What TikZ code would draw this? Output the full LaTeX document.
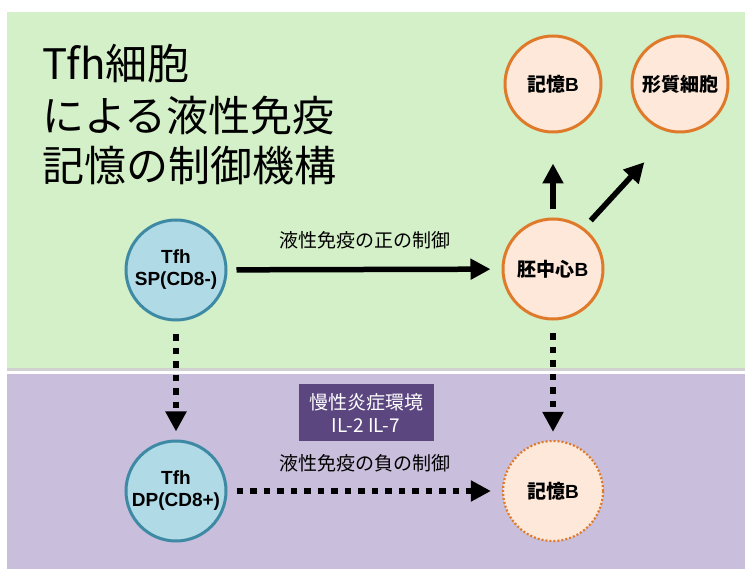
\documentclass[tikz,border=0pt]{standalone}
\usepackage{fontspec}
\setmainfont{Noto Sans CJK JP}
\newfontfamily\lat{Liberation Sans}
\usetikzlibrary{arrows.meta}
\definecolor{bggreen}{RGB}{212,240,200}
\definecolor{bgpurple}{RGB}{201,191,220}
\definecolor{orfill}{RGB}{253,232,218}
\definecolor{ordraw}{RGB}{222,122,42}
\definecolor{blfill}{RGB}{175,218,230}
\definecolor{bldraw}{RGB}{62,138,164}
\definecolor{envfill}{RGB}{91,70,128}
\tikzset{
  cell/.style={circle, minimum size=100pt, inner sep=0pt, line width=3pt, align=center,
    font=\fontsize{19}{22}\selectfont\bfseries},
  orcell/.style={cell, fill=orfill, draw=ordraw},
  blcell/.style={cell, fill=blfill, draw=bldraw},
  dotcell/.style={cell, fill=orfill, draw=ordraw, line width=2.2pt, dash pattern=on 2pt off 2pt},
  arr/.style={line width=5.5pt, -{Triangle[length=20pt,width=20pt]}},
  darr/.style={line width=6.5pt, dash pattern=on 6.5pt off 7pt, -{Triangle[length=20pt,width=20pt]}},
  ttl/.style={anchor=base west, inner sep=0pt, font=\fontsize{42}{52}\selectfont},
  lab/.style={font=\fontsize{19}{22}\selectfont, inner sep=0pt}
}
\begin{document}
\begin{tikzpicture}[x=1pt,y=-1pt]
\useasboundingbox (0,0) rectangle (745,569);
\fill[white] (0,0) rectangle (745,569);
\fill[black!18] (7,12) rectangle (745,371);
\fill[bggreen] (7,12) rectangle (745,368.5);
\fill[bgpurple] (7,374) rectangle (745,569);

\node[ttl] (title1) at (42,80) {Tfh細胞};
\node[ttl] (title2) at (42,132) {による液性免疫};
\node[ttl] (title3) at (42,182) {記憶の制御機構};

\node[blcell] (sp) at (176,270) {{\lat Tfh}\\{\lat SP(CD8-)}};
\node[orcell] (gc) at (553,269) {胚中心{\lat B}};
\node[orcell, minimum size=96pt] (mem1) at (553,84) {記憶{\lat B}};
\node[orcell, minimum size=96pt] (pc) at (680,84) {形質細胞};
\node[blcell] (dp) at (176,491) {{\lat Tfh}\\{\lat DP(CD8+)}};
\node[dotcell] (mem2) at (553,491) {記憶{\lat B}};

\node[fill=envfill, text=white, minimum width=135pt, minimum height=57pt, inner sep=0pt,
  align=center, font=\fontsize{19}{23}\selectfont] (env) at (366,413) {慢性炎症環境\\IL-2 IL-7};

\draw[arr, shorten <=9pt, shorten >=11pt] (sp) -- (gc)
  node[lab, midway, above=18pt] (lab1) {液性免疫の正の制御};
\draw[arr, shorten <=8pt, shorten >=30pt] (gc) -- (mem1);
\draw[arr, shorten <=10pt, shorten >=40pt] (gc.53) -- (pc.260);
\draw[darr, shorten <=13pt, shorten >=8pt] (sp) -- (dp);
\draw[darr, shorten <=13pt, shorten >=8pt] (gc) -- (mem2);
\draw[darr, shorten <=9pt, shorten >=11pt] (dp) -- (mem2)
  node[lab, midway, above=16pt] (lab2) {液性免疫の負の制御};
\end{tikzpicture}
\end{document}
